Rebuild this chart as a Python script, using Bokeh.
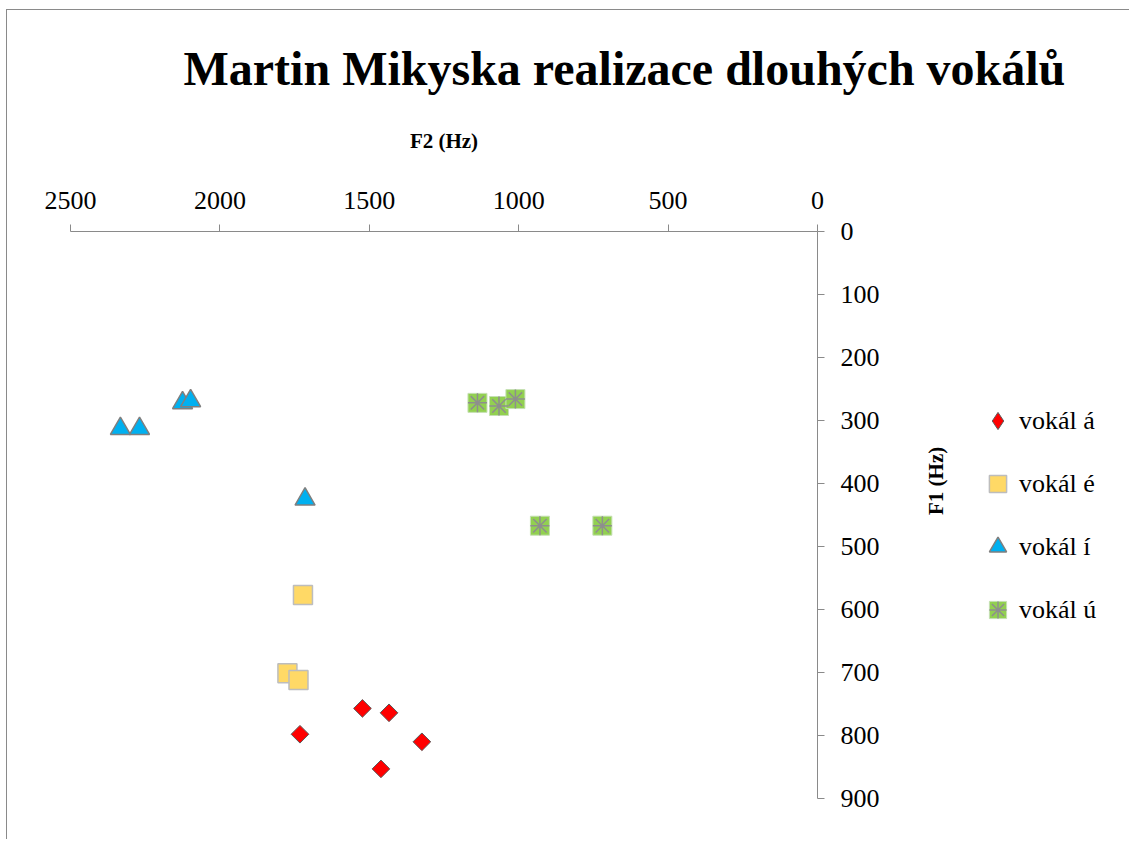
import numpy as np
from bokeh.plotting import figure
from bokeh.layouts import row, column
from bokeh.models import Range1d, LinearAxis, FixedTicker, Legend, LegendItem, Label
from bokeh.embed import file_html
from bokeh.resources import INLINE

title_text = "Martin Mikyska realizace dlouhých vokálů"
x_label = "F2 (Hz)"
y_label = "F1 (Hz)"
x_ticks = [0, 500, 1000, 1500, 2000, 2500]
y_ticks = [0, 100, 200, 300, 400, 500, 600, 700, 800, 900]

a_f2 = [1523, 1434, 1732, 1324, 1461]
a_f1 = [757, 764, 798, 810, 853]

e_f2 = [1722, 1774, 1737]
e_f1 = [577, 701, 712]

i_f2 = [2333, 2269, 2125, 2098, 1715]
i_f1 = [313, 313, 272, 269, 425]

u_f2 = [1138, 1066, 1011, 929, 720]
u_f1 = [272, 277, 266, 467, 467]

labels = ["vokál á", "vokál é", "vokál í", "vokál ú"]

SERIF = "Liberation Serif"
BORDER = "1px solid #8a8a8a"

STY = {
    "a": dict(fill_color="#ff0000", line_color="#5a5a5a", line_width=1),
    "e": dict(fill_color="#ffd966", line_color="#bdbdbd", line_width=1.5),
    "i": dict(fill_color="#00b0f0", line_color="#7f7f7f", line_width=1.5),
    "u": dict(fill_color="#92d050", line_color="#c5e0b3", line_width=1),
    "u2": dict(line_color="#8e8e8e", line_width=1.5),
}

def bare(fig):
    fig.grid.visible = False
    fig.outline_line_color = None
    fig.background_fill_color = "white"
    fig.border_fill_color = "white"

# ---- title strip
TW, TH = 1123, 105
tf = figure(width=TW, height=TH, output_backend="svg", toolbar_location=None,
            x_range=Range1d(0, TW), y_range=Range1d(0, TH),
            x_axis_location=None, y_axis_location=None,
            min_border_left=0, min_border_right=0, min_border_top=0, min_border_bottom=0)
bare(tf)
tf.styles = {"border-left": BORDER, "border-top": BORDER,
             "margin-left": "6px", "margin-top": "9px"}
tf.add_layout(Label(x=176, y=47, text=title_text, text_font=SERIF, text_font_size="48px",
                    text_font_style="bold", text_color="black",
                    text_align="left", text_baseline="alphabetic"))

# ---- main plot
PH = 725
p = figure(width=970, height=PH, output_backend="svg", toolbar_location=None,
           x_range=Range1d(2500, 0), y_range=Range1d(900, 0),
           x_axis_location=None, y_axis_location=None,
           min_border_left=63, min_border_right=160, min_border_top=117, min_border_bottom=41)
bare(p)
p.styles = {"border-left": BORDER, "margin-left": "6px"}

def style_axis(ax, label):
    ax.axis_label = label
    ax.axis_label_text_font = SERIF
    ax.axis_label_text_font_style = "bold"
    ax.axis_label_text_font_size = "21px"
    ax.axis_label_text_color = "black"
    ax.major_label_text_font = SERIF
    ax.major_label_text_font_size = "26px"
    ax.major_label_text_color = "black"
    ax.axis_line_color = "#8a8a8a"
    ax.major_tick_line_color = "#8a8a8a"
    ax.major_tick_out = 7
    ax.major_tick_in = 0
    ax.minor_tick_line_color = None

xax = LinearAxis(ticker=FixedTicker(ticks=x_ticks))
style_axis(xax, x_label)
xax.major_label_standoff = 16
xax.axis_label_standoff = 36
p.add_layout(xax, "above")

yax = LinearAxis(ticker=FixedTicker(ticks=y_ticks))
style_axis(yax, y_label)
yax.major_label_standoff = 16
yax.axis_label_standoff = 53
yax.axis_label_orientation = np.pi / 2
p.add_layout(yax, "right")

p.scatter(a_f2, a_f1, marker="square", size=12.5, angle=np.pi/4, **STY["a"])
p.scatter(e_f2, e_f1, marker="square", size=19, **STY["e"])
p.scatter(i_f2, i_f1, marker="triangle", size=20, **STY["i"])
p.scatter(u_f2, u_f1, marker="square", size=19, **STY["u"])
p.scatter(u_f2, u_f1, marker="asterisk", size=19, **STY["u2"])

# ---- legend panel (same series, ranges chosen so only the legend shows)
lg = figure(width=153, height=PH, output_backend="svg", toolbar_location=None,
            x_range=Range1d(0, 1), y_range=Range1d(0, 1),
            x_axis_location=None, y_axis_location=None,
            min_border_left=0, min_border_right=0, min_border_top=0, min_border_bottom=0)
bare(lg)

la = lg.scatter(a_f2, a_f1, marker="diamond", size=18, **STY["a"])
le = lg.scatter(e_f2, e_f1, marker="square", size=18, **STY["e"])
li = lg.scatter(i_f2, i_f1, marker="triangle", size=18, **STY["i"])
lu = lg.scatter(u_f2, u_f1, marker="square", size=18, **STY["u"])
lu2 = lg.scatter(u_f2, u_f1, marker="asterisk", size=18, **STY["u2"])

legend = Legend(items=[
    LegendItem(label=labels[0], renderers=[la], index=0),
    LegendItem(label=labels[1], renderers=[le], index=0),
    LegendItem(label=labels[2], renderers=[li], index=0),
    LegendItem(label=labels[3], renderers=[lu, lu2], index=0),
], location=(0, 167))
legend.label_text_font = SERIF
legend.label_text_font_size = "26px"
legend.label_text_color = "black"
legend.glyph_width = 43
legend.glyph_height = 43
legend.label_height = 43
legend.spacing = 20
legend.label_standoff = 0
legend.padding = 0
legend.margin = 0
legend.border_line_color = None
legend.background_fill_alpha = 0
lg.add_layout(legend, "center")

layout = column(tf, row(p, lg))
open("out.html", "w").write(file_html(layout, INLINE))
